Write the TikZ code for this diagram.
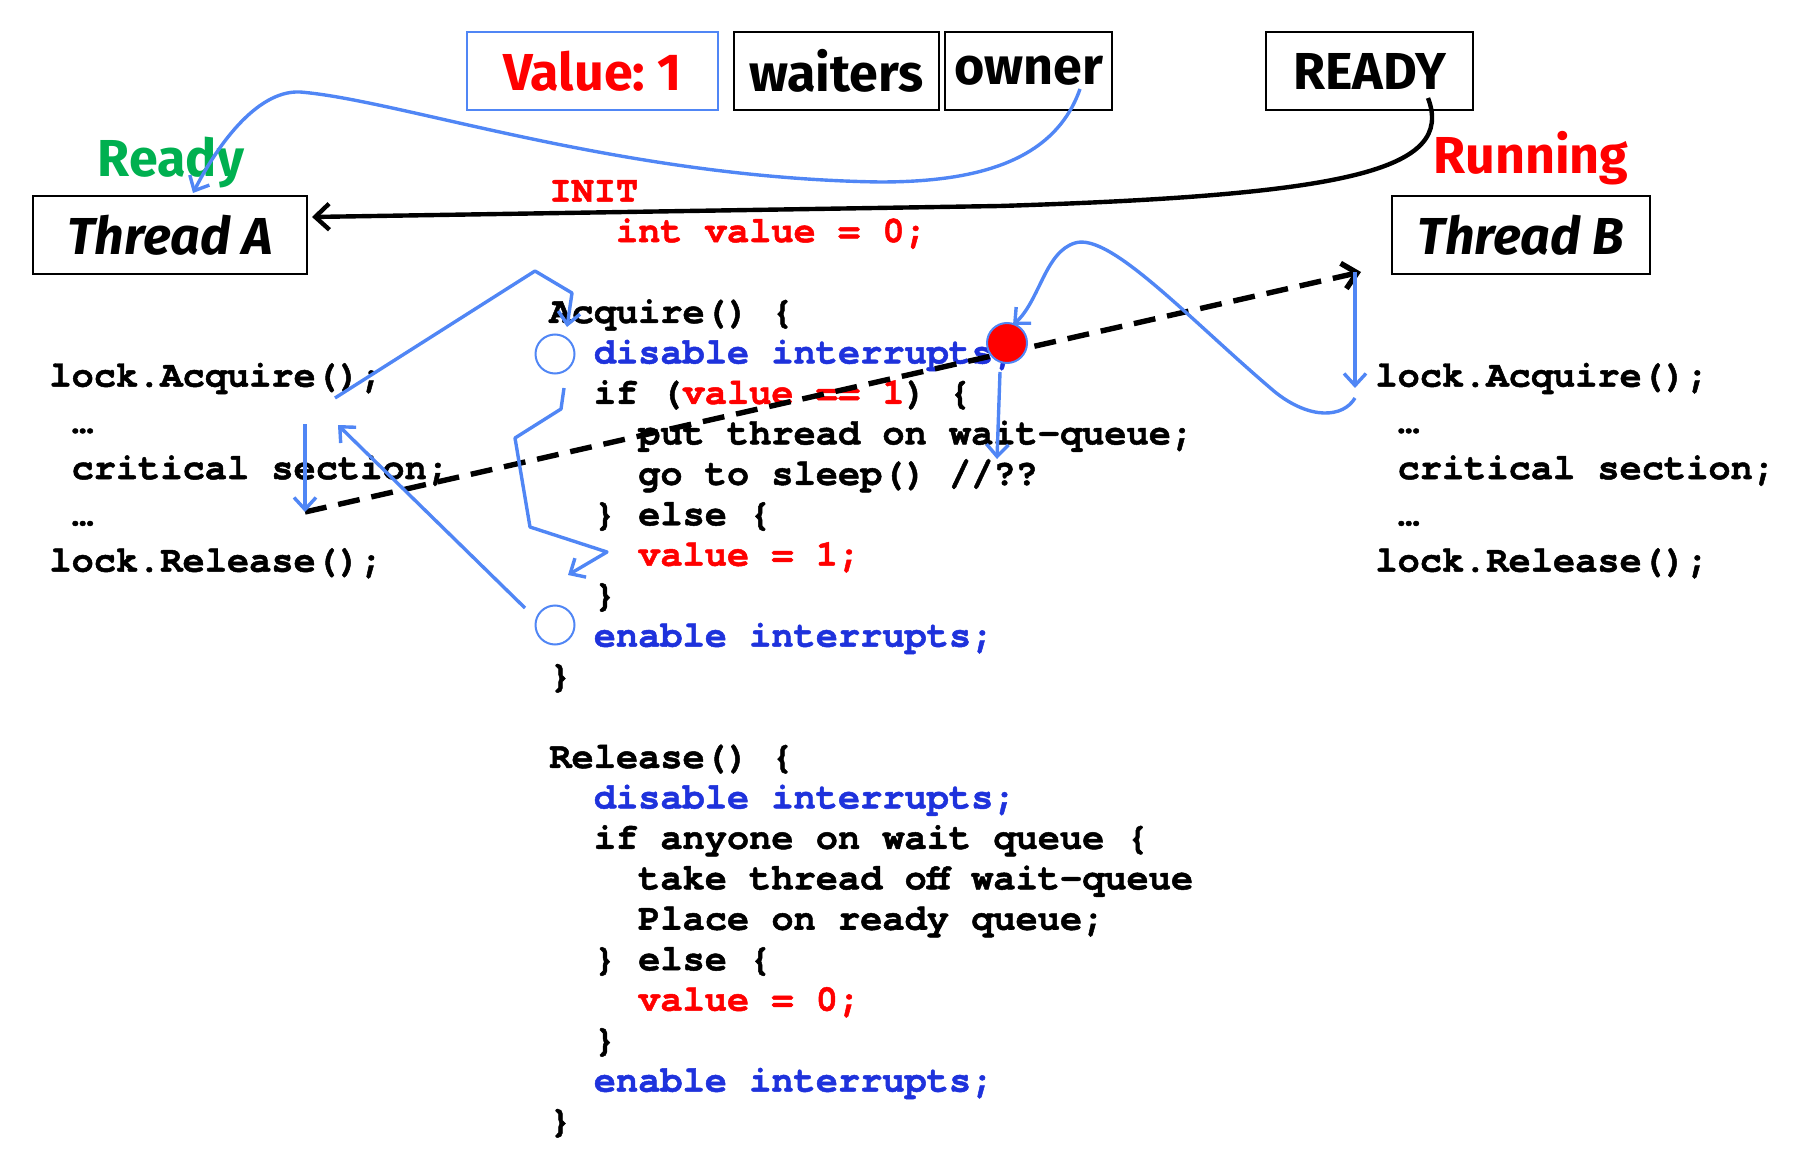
\documentclass[tikz,border=0pt]{standalone}
\usepackage{fontspec}
\usetikzlibrary{arrows.meta}
\newfontfamily\codefont{TeX Gyre Cursor}[BoldFeatures={FakeBold=1.3}]
\newfontfamily\handfont{Fira Sans}
\definecolor{cblue}{RGB}{30,50,220}
\definecolor{cred}{RGB}{255,0,0}
\definecolor{lblue}{RGB}{80,134,245}
\definecolor{cgreen}{RGB}{0,176,80}
\begin{document}
\begin{tikzpicture}[x=0.5pt,y=-0.5pt,
  code/.style={font=\codefont\bfseries\fontsize{18.5}{20}\selectfont, inner sep=0pt, anchor=base west},
  hand/.style={font=\handfont\bfseries\fontsize{26}{30}\selectfont},
  box/.style={draw=black, line width=1pt, inner sep=0pt, minimum height=39pt},
  conn/.style={draw=lblue, line width=1.7pt, line join=round, -{Straight Barb[length=6pt,width=11pt]}},
  blk/.style={draw=black, line width=2.2pt, -{Straight Barb[length=7pt,width=13pt]}},
  ring/.style={circle, draw=lblue, fill=white, line width=1pt, minimum size=19.5pt, inner sep=0pt}
]
\useasboundingbox (0,0) rectangle (1814,1160);

% top boxes
\node[box, draw=lblue, minimum width=125.5pt, hand, text=cred] (val) at (592.5,71) {Value:\ 1};
\node[box, minimum width=102.5pt, hand] (wait) at (836.5,71) {waiters};
\node[box, minimum width=83.5pt, hand] (own) at (1028.5,71) {owner};
\node[box, minimum width=103.5pt, hand] (rdy) at (1369.5,71) {READY};
\node[box, minimum width=137pt, font=\handfont\bfseries\itshape\fontsize{26}{30}\selectfont] (ta) at (170,235) {Thread A};
\node[box, minimum width=129pt, font=\handfont\bfseries\itshape\fontsize{26}{30}\selectfont] (tb) at (1521,235) {Thread B};
\node[hand, text=cgreen, anchor=base, inner sep=0pt] (readylbl) at (171,177) {Ready};
\node[hand, text=cred, anchor=base, inner sep=0pt] (runlbl) at (1531,174) {Running};

% middle code
\def\cx{549}\def\cw{22.2}\def\cy{323}\def\cs{40.45}
\node[code, text=cred] (l0) at ({\cx},{\cy-3*\cs}) {INIT};
\node[code, text=cred] (l1) at ({\cx+3*\cw},{\cy-2*\cs}) {int value = 0;};
\node[code] (l2) at ({\cx},{\cy}) {Acquire() \{};
\node[code, text=cblue] (l3) at ({\cx+2*\cw},{\cy+\cs}) {disable interrupts;};
\node[code] (l4) at ({\cx+2*\cw},{\cy+2*\cs}) {if (\textcolor{cred}{value == 1}) \{};
\node[code] (l5) at ({\cx+4*\cw},{\cy+3*\cs}) {put thread on wait-queue;};
\node[code] (l6) at ({\cx+4*\cw},{\cy+4*\cs}) {go to sleep() //??};
\node[code] (l7) at ({\cx+2*\cw},{\cy+5*\cs}) {\} else \{};
\node[code, text=cred] (l8) at ({\cx+4*\cw},{\cy+6*\cs}) {value = 1;};
\node[code] (l9) at ({\cx+2*\cw},{\cy+7*\cs}) {\}};
\node[code, text=cblue] (l10) at ({\cx+2*\cw},{\cy+8*\cs}) {enable interrupts;};
\node[code] (l11) at ({\cx},{\cy+9*\cs}) {\}};
\node[code] (l12) at ({\cx},{\cy+11*\cs}) {Release() \{};
\node[code, text=cblue] (l13) at ({\cx+2*\cw},{\cy+12*\cs}) {disable interrupts;};
\node[code] (l14) at ({\cx+2*\cw},{\cy+13*\cs}) {if anyone on wait queue \{};
\node[code] (l15) at ({\cx+4*\cw},{\cy+14*\cs}) {take thread off wait-queue};
\node[code] (l16) at ({\cx+4*\cw},{\cy+15*\cs}) {Place on ready queue;};
\node[code] (l17) at ({\cx+2*\cw},{\cy+16*\cs}) {\} else \{};
\node[code, text=cred] (l18) at ({\cx+4*\cw},{\cy+17*\cs}) {value = 0;};
\node[code] (l19) at ({\cx+2*\cw},{\cy+18*\cs}) {\}};
\node[code, text=cblue] (l20) at ({\cx+2*\cw},{\cy+19*\cs}) {enable interrupts;};
\node[code] (l21) at ({\cx},{\cy+20*\cs}) {\}};

% left / right code
\def\ly{386.6}\def\ls{46.25}
\foreach \nm/\xx in {a/49, b/1375}{
  \node[code] (\nm0) at (\xx,{\ly}) {lock.Acquire();};
  \node[code] (\nm1) at ({\xx+\cw},{\ly+\ls}) {…};
  \node[code] (\nm2) at ({\xx+\cw},{\ly+2*\ls}) {critical section;};
  \node[code] (\nm3) at ({\xx+\cw},{\ly+3*\ls}) {…};
  \node[code] (\nm4) at (\xx,{\ly+4*\ls}) {lock.Release();};
}

% connector coordinates
\coordinate (ownS) at (1080,89);
\coordinate (taTop) at (193,193);
\coordinate (rdyS) at (1428,98);
\coordinate (taE) at (312,217);
\coordinate (dA) at (305,512);
\coordinate (dB) at (1361,272);
\coordinate (aTop) at (305,424);
\coordinate (aZ0) at (335,398);
\coordinate (aZ1) at (535,271);
\coordinate (aZ2) at (572,293);
\coordinate (aZ3) at (567,327);
\coordinate (dq0) at (564,388);
\coordinate (dq1) at (561,409);
\coordinate (dq2) at (515,438);
\coordinate (dq3) at (530,527);
\coordinate (dq4) at (607,552);
\coordinate (dq5) at (568,575);
\coordinate (en0) at (525,608);
\coordinate (en1) at (338,425);
\coordinate (rb0) at (1355,398);
\coordinate (rdot) at (1013,325);
\coordinate (rd0) at (1000,372);
\coordinate (rd1) at (997,459);
\coordinate (bv0) at (1355,272);
\coordinate (bv1) at (1355,388);

% circles
\node[ring] (cdis) at (555,354) {};
\node[ring] (cen) at (555,625) {};

% black connectors
\draw[blk] (rdyS) .. controls (1455,170) and (1350,195) .. (1000,206) -- (taE);
\draw[blk, dash pattern=on 11pt off 6pt, line width=2.7pt] (dA) -- (dB);

% red dot
\node[circle, fill=cred, draw=lblue, line width=1pt, minimum size=20pt, inner sep=0pt] (dot) at (1007,343) {};

% blue connectors
\draw[conn] (ownS) .. controls (1055,160) and (980,182) .. (880,182)
   .. controls (620,178) and (400,100) .. (300,92)
   .. controls (255,90) and (215,150) .. (taTop);
\draw[conn] (aTop) -- (dA);
\draw[conn] (aZ0) -- (aZ1) -- (aZ2) -- (aZ3);
\draw[conn] (dq0) -- (dq1) -- (dq2) -- (dq3) -- (dq4) -- (dq5);
\draw[conn] (en0) -- (en1);
\draw[conn] (rb0) .. controls (1343,418) and (1310,420) .. (1275,392)
   .. controls (1190,320) and (1110,232) .. (1075,243)
   .. controls (1045,252) and (1040,300) .. (rdot);
\draw[conn] (rd0) -- (rd1);
\draw[conn] (bv0) -- (bv1);
\end{tikzpicture}
\end{document}
